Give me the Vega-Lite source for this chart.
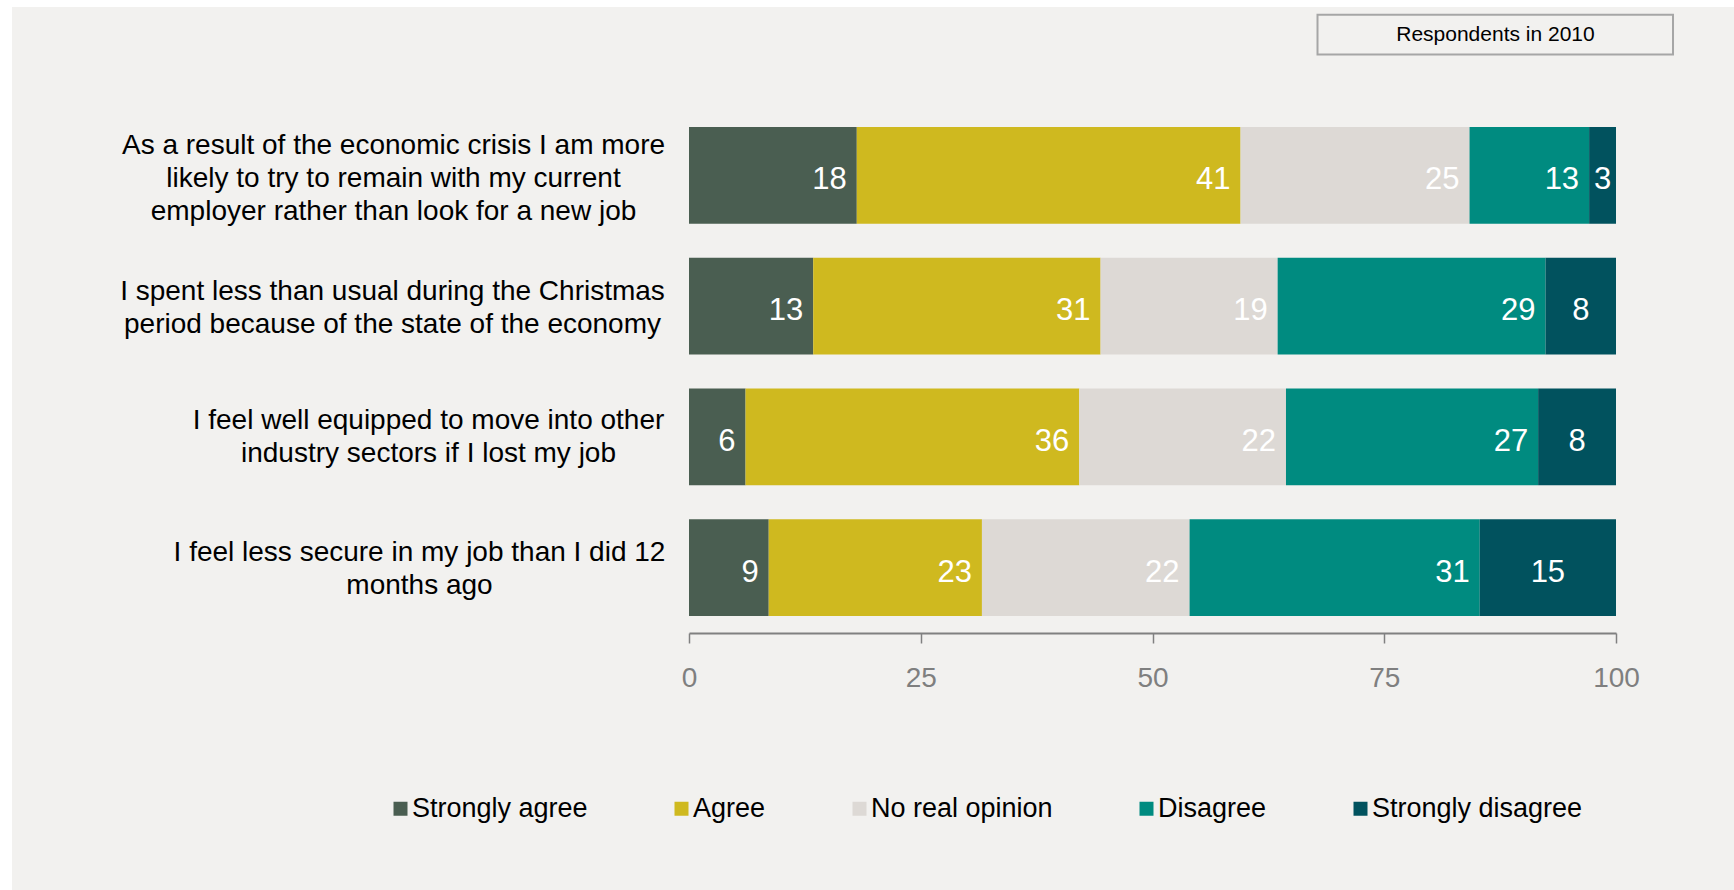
{
  "$schema": "https://vega.github.io/schema/vega-lite/v6.json",
  "width": 927,
  "height": 523,
  "autosize": {"type": "none"},
  "padding": {"left": 689, "top": 110, "right": 118, "bottom": 257},
  "background": "#ffffff",
  "config": {"view": {"stroke": null}, "font": "Liberation Sans"},
  "layer": [
    {
      "data": {"values": [{"panel": "background"}]},
      "mark": {"type": "rect", "fill": "#f2f1ef", "strokeWidth": 0},
      "encoding": {
        "x": {"datum": -73.03, "type": "quantitative", "scale": {"domain": [0, 100], "nice": false}, "axis": null},
        "x2": {"datum": 120},
        "y": {"datum": 119.7, "type": "quantitative", "scale": {"domain": [0, 100], "nice": false, "zero": false}, "axis": null},
        "y2": {"datum": -100}
      }
    },
    {
      "data": {
        "values": [
          {"statement": "As a result of the economic crisis I am more|likely to try to remain with my current|employer rather than look for a new job", "response": "Strongly agree", "value": 18.1},
          {"statement": "As a result of the economic crisis I am more|likely to try to remain with my current|employer rather than look for a new job", "response": "Agree", "value": 41.4},
          {"statement": "As a result of the economic crisis I am more|likely to try to remain with my current|employer rather than look for a new job", "response": "No real opinion", "value": 24.7},
          {"statement": "As a result of the economic crisis I am more|likely to try to remain with my current|employer rather than look for a new job", "response": "Disagree", "value": 12.9},
          {"statement": "As a result of the economic crisis I am more|likely to try to remain with my current|employer rather than look for a new job", "response": "Strongly disagree", "value": 2.9},
          {"statement": "I spent less than usual during the Christmas|period because of the state of the economy", "response": "Strongly agree", "value": 13.4},
          {"statement": "I spent less than usual during the Christmas|period because of the state of the economy", "response": "Agree", "value": 31.0},
          {"statement": "I spent less than usual during the Christmas|period because of the state of the economy", "response": "No real opinion", "value": 19.1},
          {"statement": "I spent less than usual during the Christmas|period because of the state of the economy", "response": "Disagree", "value": 28.9},
          {"statement": "I spent less than usual during the Christmas|period because of the state of the economy", "response": "Strongly disagree", "value": 7.6},
          {"statement": "I feel well equipped to move into other|industry sectors if I lost my job", "response": "Strongly agree", "value": 6.1},
          {"statement": "I feel well equipped to move into other|industry sectors if I lost my job", "response": "Agree", "value": 36.0},
          {"statement": "I feel well equipped to move into other|industry sectors if I lost my job", "response": "No real opinion", "value": 22.3},
          {"statement": "I feel well equipped to move into other|industry sectors if I lost my job", "response": "Disagree", "value": 27.2},
          {"statement": "I feel well equipped to move into other|industry sectors if I lost my job", "response": "Strongly disagree", "value": 8.4},
          {"statement": "I feel less secure in my job than I did 12|months ago", "response": "Strongly agree", "value": 8.6},
          {"statement": "I feel less secure in my job than I did 12|months ago", "response": "Agree", "value": 23.0},
          {"statement": "I feel less secure in my job than I did 12|months ago", "response": "No real opinion", "value": 22.4},
          {"statement": "I feel less secure in my job than I did 12|months ago", "response": "Disagree", "value": 31.3},
          {"statement": "I feel less secure in my job than I did 12|months ago", "response": "Strongly disagree", "value": 14.7}
        ]
      },
      "transform": [
        {"stack": "value", "groupby": ["statement"], "as": ["v0", "v1"]},
        {"calculate": "(datum.v0 + datum.v1) / 2", "as": "vmid"}
      ],
      "layer": [
        {
          "mark": {"type": "bar"},
          "encoding": {
            "y": {
              "field": "statement", "type": "nominal", "sort": null,
              "scale": {"paddingInner": 0.26, "paddingOuter": 0.13},
              "axis": {
                "zindex": 1, "orient": "left",
                "title": null, "domain": false, "ticks": false,
                "labelFontSize": 28, "labelColor": "#000000", "labelLineHeight": 33,
                "labelLimit": 0, "labelAlign": "center", "labelBaseline": "middle",
                "labelExpr": "split(datum.label, '|')",
                "labelPadding": {
                  "condition": [
                    {"test": "datum.value[0] === 'A'", "value": 296},
                    {"test": "datum.value[2] === 's'", "value": 297},
                    {"test": "datum.value[7] === 'w'", "value": 261}
                  ],
                  "value": 270
                },
                "labelOffset": {
                  "condition": [
                    {"test": "datum.value[0] === 'A'", "value": -29},
                    {"test": "datum.value[2] === 's'", "value": -14},
                    {"test": "datum.value[7] === 'w'", "value": -16}
                  ],
                  "value": -15
                }
              }
            },
            "x": {
              "field": "v0", "type": "quantitative",
              "scale": {"domain": [0, 100], "nice": false},
              "axis": {
                "zindex": 1, "orient": "bottom",
                "title": null, "values": [0, 25, 50, 75, 100], "grid": false,
                "domainColor": "#808080", "domainWidth": 2,
                "tickColor": "#808080", "tickSize": 10, "tickWidth": 1.5,
                "labelColor": "#7f7f7f", "labelFontSize": 28, "labelPadding": 21, "labelFlush": false
              }
            },
            "x2": {"field": "v1"},
            "color": {
              "field": "response", "type": "nominal",
              "scale": {
                "domain": ["Strongly agree", "Agree", "No real opinion", "Disagree", "Strongly disagree"],
                "range": ["#4a5e51", "#cfb91f", "#ddd9d5", "#008b80", "#01525e"]
              },
              "legend": {
                "zindex": 1,
                "title": null, "orient": "none", "legendX": -302, "legendY": 685,
                "direction": "horizontal", "symbolType": "square", "symbolSize": 196,
                "symbolStrokeWidth": 0, "labelFontSize": 27, "labelColor": "#000000",
                "labelOffset": -2, "columnPadding": 80, "labelLimit": 0, "padding": 0
              }
            }
          }
        },
        {
          "transform": [{"filter": "datum.response !== 'Strongly disagree'"}],
          "mark": {"type": "text", "align": "right", "baseline": "middle", "dx": -10, "dy": 5, "fontSize": 31, "color": "#ffffff"},
          "encoding": {
            "y": {"field": "statement", "type": "nominal", "sort": null},
            "x": {"field": "v1", "type": "quantitative"},
            "text": {"field": "value", "type": "quantitative", "format": ".0f"}
          }
        },
        {
          "transform": [{"filter": "datum.response === 'Strongly disagree'"}],
          "mark": {"type": "text", "align": "center", "baseline": "middle", "dy": 5, "fontSize": 31, "color": "#ffffff"},
          "encoding": {
            "y": {"field": "statement", "type": "nominal", "sort": null},
            "x": {"field": "vmid", "type": "quantitative"},
            "text": {"field": "value", "type": "quantitative", "format": ".0f"}
          }
        }
      ]
    },
    {
      "data": {"values": [{"label": "Respondents in 2010"}]},
      "layer": [
        {
          "mark": {"type": "rect", "fill": "#f2f1ef", "stroke": "#a6a6a6", "strokeWidth": 2},
          "encoding": {
            "x": {"datum": 67.8, "type": "quantitative", "scale": {"domain": [0, 100], "nice": false}, "axis": null},
            "x2": {"datum": 106.15},
            "y": {"datum": 118.2, "type": "quantitative", "scale": {"domain": [0, 100], "nice": false, "zero": false}, "axis": null},
            "y2": {"datum": 110.6}
          }
        },
        {
          "mark": {"type": "text", "align": "center", "baseline": "middle", "fontSize": 21, "color": "#000000"},
          "encoding": {
            "x": {"datum": 87.0, "type": "quantitative"},
            "y": {"datum": 114.4, "type": "quantitative"},
            "text": {"field": "label"}
          }
        }
      ]
    }
  ],
  "resolve": {"scale": {"x": "independent", "y": "independent"}, "axis": {"x": "independent", "y": "independent"}}
}
